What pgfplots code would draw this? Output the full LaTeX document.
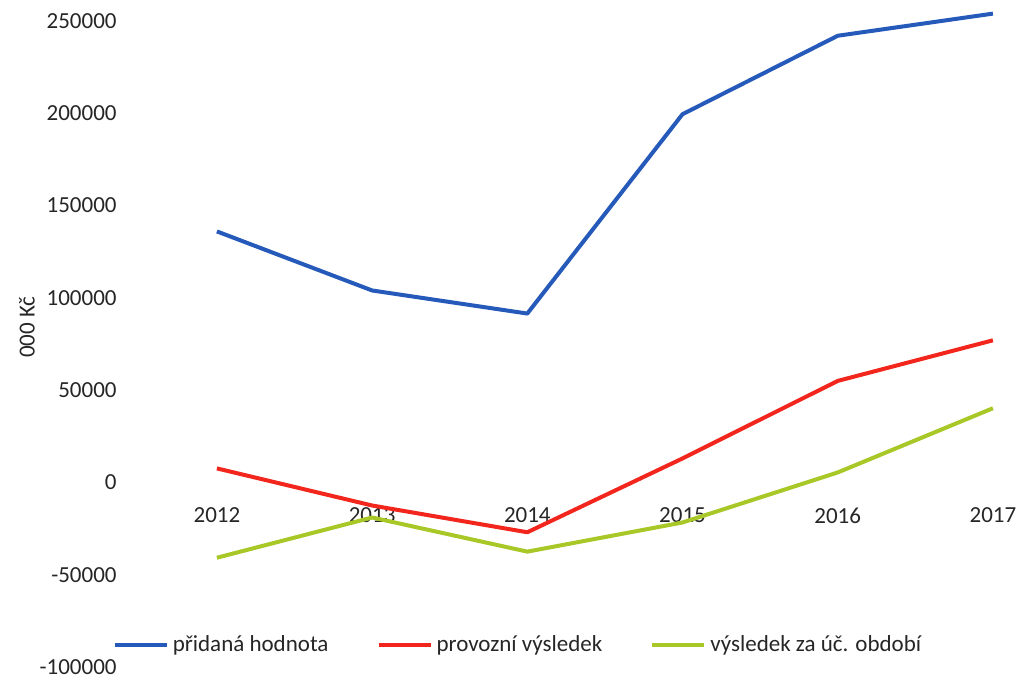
\documentclass[border=0pt]{standalone}
\usepackage{fontspec}
\setmainfont{Carlito}
\usepackage{pgfplots}
\pgfplotsset{compat=1.18}
\definecolor{cblue}{RGB}{38,90,186}
\definecolor{cred}{RGB}{242,38,28}
\definecolor{cgreen}{RGB}{168,200,40}
\begin{document}
\begin{tikzpicture}
\begin{axis}[
  scale only axis,
  width=440pt, height=323pt,
  xmin=-0.56, xmax=5.11,
  ymin=-100000, ymax=250000,
  clip=false,
  axis x line=middle, axis y line=left,
  axis line style={draw=none},
  major tick length=0pt,
  scaled y ticks=false,
  xtick={0,1,2,3,4,5},
  xticklabels={2012,2013,2014,2015,2016,2017},
  ytick={-100000,-50000,0,50000,100000,150000,200000,250000},
  yticklabels={-100000,-50000,0,50000,100000,150000,200000,250000},
  yticklabel style={anchor=east, inner sep=0pt, xshift=-6.5pt},
  xticklabel style={anchor=center, yshift=-16.5pt},
  tick label style={font=\fontsize{11.5}{13}\selectfont, text=black!85},
  ylabel={000 Kč},
  every axis y label/.style={at={(axis description cs:-0.117,0.526)}, rotate=90, anchor=center, font=\fontsize{11.5}{13}\selectfont, text=black!85},
  legend columns=3,
  legend style={at={(axis description cs:-0.02,0.034)}, anchor=west, draw=none, fill=none, inner sep=0pt,
    font=\fontsize{11.5}{13}\selectfont, text=black!85,
    /tikz/every even column/.append style={column sep=22pt}},
  legend image code/.code={\draw[#1] (0pt,0pt) -- (26pt,0pt);},
]
\coordinate (bl) at (rel axis cs:0,0);
\coordinate (tr) at (rel axis cs:1,1);
\addplot[cblue, line width=2pt, line join=round] coordinates {
  (0,136000) (1,104000) (2,91500) (3,199500) (4,242000) (5,254000)
};
\addplot[cred, line width=2pt, line join=round] coordinates {
  (0,7600) (1,-12500) (2,-27000) (3,13000) (4,55000) (5,77000)
};
\addplot[cgreen, line width=2pt, line join=round] coordinates {
  (0,-40800) (1,-19000) (2,-37500) (3,-21700) (4,5400) (5,40200)
};
\legend{přidaná hodnota,provozní výsledek,výsledek za úč. období}
\end{axis}
\pgfresetboundingbox
\path ([shift={(-65pt,-6.5pt)}]bl) rectangle ([shift={(4pt,10.5pt)}]tr);
\end{tikzpicture}
\end{document}
